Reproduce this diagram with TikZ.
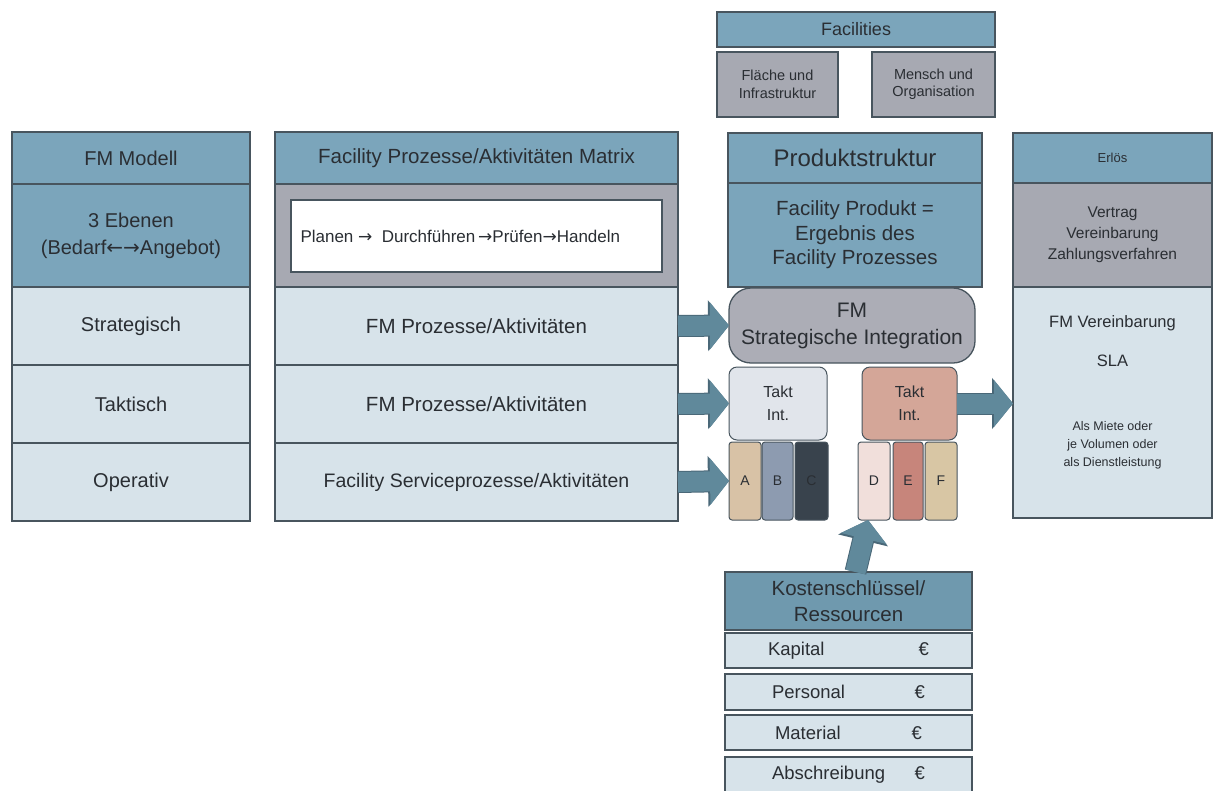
\documentclass[tikz,border=0pt]{standalone}
\usepackage{fontspec}
\setmainfont{Liberation Sans}
\newfontfamily\arrowfont{DejaVu Sans}
\usetikzlibrary{arrows.meta,calc}

\definecolor{hdrblue}{HTML}{7BA5BB}
\definecolor{keyblue}{HTML}{6F99AE}
\definecolor{liteblue}{HTML}{D7E3EA}
\definecolor{greyrow}{HTML}{A7A9B2}
\definecolor{edgecol}{HTML}{48555E}
\definecolor{ink}{HTML}{2A2E33}
\definecolor{arrowcol}{HTML}{60899B}
\definecolor{arrowedge}{HTML}{4A6878}
\definecolor{fmgrey}{HTML}{ACADB6}
\definecolor{taktL}{HTML}{E1E5EB}
\definecolor{taktR}{HTML}{D4A698}
\definecolor{colA}{HTML}{D8C2A6}
\definecolor{colB}{HTML}{8D9BB0}
\definecolor{colC}{HTML}{39434D}
\definecolor{colD}{HTML}{F1DFDB}
\definecolor{colE}{HTML}{C7857B}
\definecolor{colF}{HTML}{D8C6A4}

% font size with 1.2 line spacing, or with an explicit spacing
\newcommand\fs[1]{\fontsize{#1}{1.2\dimexpr#1pt\relax}\selectfont}
\newcommand\fsl[2]{\fontsize{#1}{#2}\selectfont}
\newcommand\ra{{\arrowfont →}}
\newcommand\la{{\arrowfont ←}}

\tikzset{
  cell/.style={draw=edgecol, line width=1.3pt, inner sep=2pt, outer sep=0pt,
               align=center, text=ink, anchor=north west, rectangle},
  hdr/.style={cell, fill=hdrblue},
  lite/.style={cell, fill=liteblue},
  greycell/.style={cell, fill=greyrow},
  seg/.style={cell, line width=1pt, rounded corners=3pt, font=\fs{14}},
  txt/.style={text=ink, inner sep=0pt, align=center},
  barrow/.style={draw=arrowcol, line width=20pt,
                 -{Triangle[length=19pt,width=46pt]},
                 preaction={draw=arrowedge, line width=22pt,
                            -{Triangle[length=21pt,width=50pt]}}},
  box/.style 2 args={minimum width=#1pt, minimum height=#2pt}
}

\begin{document}
\begin{tikzpicture}[x=1pt,y=-1pt]
\useasboundingbox (0,0) rectangle (1220,790);
\fill[white] (0,0) rectangle (1220,790);

% ---- Facilities ----
\node[hdr, box={278}{35}, font=\fs{18}] (fh) at (717,12) {Facilities};
\node[greycell, box={121}{65}, font=\fs{14.5}] (f1) at (717,52) {Fläche und\\Infrastruktur};
\node[greycell, box={123}{65}, font=\fs{14.5}] (f2) at (872,52) {Mensch und\\Organisation};

% ---- FM Modell column ----
\node[hdr,  box={238}{52},  font=\fs{20}] (fmh) at (12,132) {FM Modell};
\node[hdr,  box={238}{103}, font=\fsl{20}{27}] (fme) at (12,184) {3  Ebenen\\(Bedarf\la\ra Angebot)};
\node[lite, box={238}{78},  font=\fs{20}] (fms) at (12,287) {Strategisch};
\node[lite, box={238}{78},  font=\fs{20}] (fmt) at (12,365) {Taktisch};
\node[lite, box={238}{78},  font=\fs{20}] (fmo) at (12,443) {Operativ};

% ---- Prozess matrix column ----
\node[hdr,      box={403}{52},  font=\fs{20.5}] (mh) at (275,132) {Facility Prozesse/Aktivitäten Matrix};
\node[greycell, box={403}{103}] (mg) at (275,184) {};
\node[cell, fill=white, box={371}{72}, font=\fs{17}] (pdca) at (291,200)
  {\hbox to 352pt{Planen \ra\ \ Durchführen\,\ra Prüfen\ra Handeln\hfill}};
\node[lite, box={403}{78}, font=\fs{20.5}] (m1) at (275,287) {FM Prozesse/Aktivitäten};
\node[lite, box={403}{78}, font=\fs{20.5}] (m2) at (275,365) {FM Prozesse/Aktivitäten};
\node[lite, box={403}{78}, font=\fs{19.5}] (m3) at (275,443) {Facility Serviceprozesse/Aktivitäten};

% ---- Produktstruktur ----
\node[hdr, box={254}{50},  font=\fs{24}] (ph) at (728,133) {Produktstruktur};
\node[hdr, box={254}{104}, font=\fs{20.5}] (pp) at (728,183)
  {Facility Produkt =\\Ergebnis des\\Facility Prozesses};

% ---- Integration ----
\node[cell, fill=fmgrey, rounded corners=22pt, box={246}{75}, font=\fsl{21}{27}] (fm) at (729,288)
  {FM\\Strategische Integration};
\node[cell, fill=taktL, line width=1pt, rounded corners=8pt, box={98}{73}, font=\fsl{16}{23}] (tl) at (729,367) {Takt\\Int.};
\node[cell, fill=taktR, line width=1pt, rounded corners=8pt, box={95}{73}, font=\fsl{16}{23}] (tr) at (862,367) {Takt\\Int.};

\node[seg, fill=colA, box={32}{78}] (sA) at (729,442) {A};
\node[seg, fill=colB, box={31}{78}] (sB) at (762,442) {B};
\node[seg, fill=colC, box={33}{78}] (sC) at (795,442) {C};
\node[seg, fill=colD, box={32}{78}] (sD) at (858,442) {D};
\node[seg, fill=colE, box={30}{78}] (sE) at (893,442) {E};
\node[seg, fill=colF, box={32}{78}] (sF) at (925,442) {F};

% ---- Erlös column ----
\node[hdr,      box={199}{50},  font=\fs{13}] (eh) at (1013,133) {Erlös};
\node[greycell, box={199}{104}, font=\fsl{15.5}{21}] (eg) at (1013,183)
  {Vertrag\\Vereinbarung\\Zahlungsverfahren};
\node[lite,     box={199}{231}] (el) at (1013,287) {};
\node[txt, font=\fs{16.5}] (e1) at ($(el.north)+(0,36)$) {FM Vereinbarung};
\node[txt, font=\fs{16.5}] (e2) at ($(el.north)+(0,74)$) {SLA};
\node[txt, font=\fsl{12.5}{18}] (e3) at ($(el.north)+(0,158)$) {Als Miete oder\\je Volumen oder\\als Dienstleistung};

% ---- Kosten / Ressourcen ----
\node[cell, fill=keyblue, box={247}{58}, font=\fsl{20.5}{26}] (kh) at (725,572) {Kostenschlüssel/\\Ressourcen};
\node[lite, box={247}{35}, font=\fs{18.5}] (k1) at (725,633) {\hbox to 161pt{Kapital\hfill €}};
\node[lite, box={247}{36}, font=\fs{18.5}] (k2) at (725,674) {\hbox to 153pt{Personal\hfill €}};
\node[lite, box={247}{35}, font=\fs{18.5}] (k3) at (725,715) {\hbox to 147pt{Material\hfill €}};
\node[lite, box={247}{36}, font=\fs{18.5}] (k4) at (725,757) {\hbox to 153pt{Abschreibung\hfill €}};

% ---- block arrows ----
\draw[barrow] (m1.east) -- (fm.west);
\draw[barrow] (m2.east) -- (tl.west);
\draw[barrow] (m3.east) -- (sA.west);
\draw[barrow] (tr.east) -- (el.west |- tr.east);
\draw[barrow] ($(kh.north)+(7,0)$) -- ($(sD.south)+(-6,0)$);
\end{tikzpicture}
\end{document}
